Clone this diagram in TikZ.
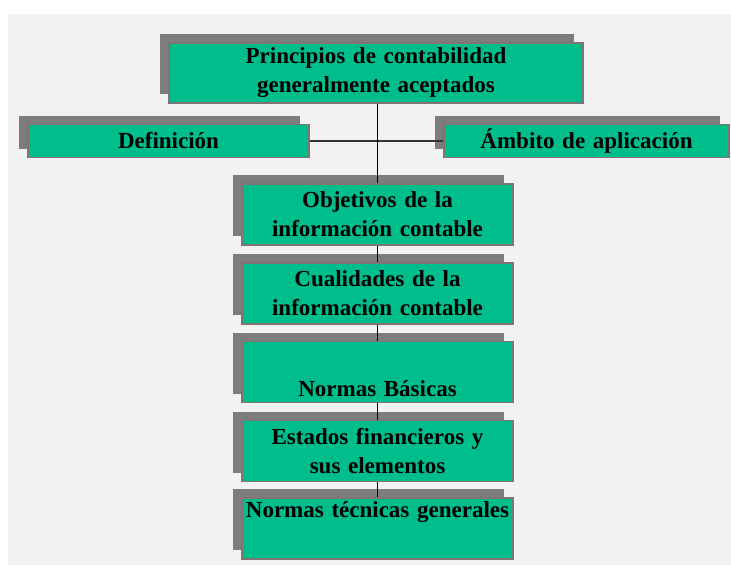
\documentclass[tikz,border=0pt]{standalone}
\usepackage{fontspec}
\setmainfont{Liberation Serif}
\usetikzlibrary{shadows}
\definecolor{boxgreen}{RGB}{0,190,140}
\definecolor{boxline}{RGB}{130,115,115}
\definecolor{shadowgray}{RGB}{125,125,125}
\definecolor{pagegray}{RGB}{242,242,242}
\begin{document}
\begin{tikzpicture}[x=1pt,y=-1pt,
    box/.style={%
        draw=boxline, line width=1.2pt, fill=boxgreen,
        inner sep=0pt, align=center,
        font=\bfseries\fontsize{23}{29}\selectfont,
        drop shadow={shadow xshift=-9pt, shadow yshift=9pt,
            fill=shadowgray, opacity=1}},
    mainbox/.style={box, text width=414pt, minimum height=60pt},
    sidebox/.style={box, minimum height=33pt},
    stepbox/.style={box, text width=271pt, minimum height=61pt},
    trunk/.style={draw=black, line width=1.5pt},
    branch/.style={draw=black!80, line width=2pt},
]
    \useasboundingbox (0,0) rectangle (731,565);
    \fill[white] (0,0) rectangle (731,565);
    \fill[pagegray] (8,14) rectangle (731,565);
    % Top and side boxes
    \node[mainbox] (principios) at (376,73)
        {Principios de contabilidad\\generalmente aceptados};
    \node[sidebox, text width=281pt] (definicion) at (168.5,141) {Definición};
    \node[sidebox, text width=285pt] (ambito) at (586.5,141) {Ámbito de aplicación};
    % Steps
    \node[stepbox] (objetivos) at (377.5,214.5)
        {Objetivos de la\\información contable};
    \node[stepbox] (cualidades) at (377.5,293.5)
        {Cualidades de la\\información contable};
    \node[stepbox] (basicas) at (377.5,372) {\strut\\Normas Básicas};
    \node[stepbox] (estados) at (377.5,451)
        {Estados financieros y\\sus elementos};
    \node[stepbox] (tecnicas) at (377.5,528.5) {Normas técnicas generales\\\strut};
    % Connectors
    \draw[branch] (definicion.east) -- (ambito.west);
    \draw[trunk] (principios.south -| objetivos.north) -- (objetivos.north);
    \draw[trunk] (objetivos.south) -- (cualidades.north);
    \draw[trunk] (cualidades.south) -- (basicas.north);
    \draw[trunk] (basicas.south) -- (estados.north);
    \draw[trunk] (estados.south) -- (tecnicas.north);
\end{tikzpicture}
\end{document}
